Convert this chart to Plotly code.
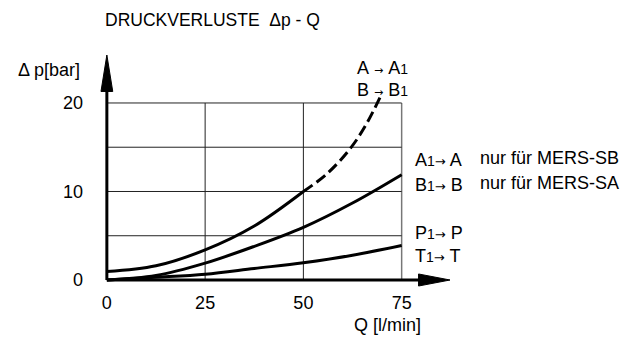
import plotly.graph_objects as go

# ---- data ----
q_main = [0, 12.5, 25, 37.5, 50, 62.5, 75]
dp_PT = [0, 0.3, 0.65, 1.3, 1.95, 2.8, 3.9]          # P1->P, T1->T
dp_A1A = [0, 0.5, 1.9, 3.8, 5.95, 8.7, 11.9]          # A1->A, B1->B
q_AA1 = [0, 12.5, 25, 37.5, 50]
dp_AA1 = [0.95, 1.6, 3.4, 6.1, 10.0]                  # A->A1, B->B1 (solid)
q_AA1_dash = [50, 56, 62, 66, 69.8]
dp_AA1_dash = [10.0, 12.0, 14.9, 17.6, 20.9]          # A->A1, B->B1 (dashed)

x_ticks = [0, 25, 50, 75]
y_ticks = [0, 10, 20]
x_grid = [25, 50, 75]
y_grid = [5, 10, 15, 20]

FONT = "Liberation Sans, Arial, sans-serif"
BLACK = "#000000"

# figure geometry (page is offset by the 8px body margin)
OFF = 8
FW, FH = 635 - OFF, 340 - OFF
ML, MT, MR, MB = 99 - OFF, 55 - OFF, 185, 50
PW = FW - ML - MR
PH = FH - MT - MB

def paper(px, py):
    """page pixel -> paper coordinates"""
    return (px - OFF - ML) / PW, (MT + PH - (py - OFF)) / PH

fig = go.Figure()
line = dict(color=BLACK, width=3, shape="spline", smoothing=1.0)
fig.add_trace(go.Scatter(x=q_main, y=dp_PT, mode="lines", line=line, hoverinfo="skip"))
fig.add_trace(go.Scatter(x=q_main, y=dp_A1A, mode="lines", line=line, hoverinfo="skip"))
fig.add_trace(go.Scatter(x=q_AA1, y=dp_AA1, mode="lines", line=line, hoverinfo="skip"))
fig.add_trace(go.Scatter(x=q_AA1_dash, y=dp_AA1_dash, mode="lines",
                         line=dict(color=BLACK, width=3, shape="spline", smoothing=1.0, dash="11px,5px"),
                         hoverinfo="skip"))

shapes = []
xmax_grid = max(x_grid)
ymax_grid = max(y_grid)
for gx in x_grid:
    shapes.append(dict(type="line", xref="x", yref="y", x0=gx, x1=gx, y0=0, y1=ymax_grid,
                       line=dict(color="#777777" if gx == xmax_grid else "#222222",
                                 width=1.5 if gx == xmax_grid else 1), layer="below"))
for gy in y_grid:
    shapes.append(dict(type="line", xref="x", yref="y", x0=0, x1=xmax_grid, y0=gy, y1=gy,
                       line=dict(color="#222222", width=1), layer="below"))

# axes with arrowheads
XTIP, YTIP = 87.3, 25.42
shapes.append(dict(type="line", xref="x", yref="y", x0=0, x1=79.5, y0=0, y1=0,
                   line=dict(color=BLACK, width=3)))
shapes.append(dict(type="line", xref="x", yref="y", x0=0, x1=0, y0=0, y1=21.5,
                   line=dict(color=BLACK, width=3)))
shapes.append(dict(type="path", xref="x", yref="y",
                   path=f"M 79.3 0.68 L {XTIP} 0 L 79.3 -0.68 Z",
                   fillcolor=BLACK, line=dict(color=BLACK, width=1)))
shapes.append(dict(type="path", xref="x", yref="y",
                   path=f"M -1.5 21.3 L 0 {YTIP} L 1.5 21.3 Z",
                   fillcolor=BLACK, line=dict(color=BLACK, width=1)))

sm = "<span style='font-size:14px'>1</span>"
NB = "\u00a0"
ar_small = f"{NB}<span style='font-family:DejaVu Sans;font-size:11px'>\u2192</span>{NB}"
ar = "<span style='font-family:DejaVu Sans;font-size:13px'>\u2192</span>"
ann = []
def add(text, px, py, xanchor="left", size=18):
    x, y = paper(px, py)
    ann.append(dict(text=text, x=x, y=y, xref="paper", yref="paper", xanchor=xanchor, yanchor="middle",
                    showarrow=False, font=dict(family=FONT, size=size, color=BLACK)))

add(f"A{ar_small}A{sm}", 355, 68)
add(f"B{ar_small}B{sm}", 355, 90)
add(f"A{sm}{ar} A", 413, 160)
add(f"B{sm}{ar} B", 413, 185)
add("nur für MERS-SB", 478, 158, size=18)
add("nur für MERS-SA", 478, 183, size=18)
add(f"P{sm}{ar} P", 413, 233)
add(f"T{sm}{ar} T", 413, 256)
add("Q [l/min]", 387, 325, xanchor="center")
add("\u0394 p[bar]", 82, 70, xanchor="right")

fig.update_layout(
    width=FW, height=FH,
    margin=dict(l=ML, r=MR, t=MT, b=MB, autoexpand=False),
    paper_bgcolor="white", plot_bgcolor="white",
    showlegend=False,
    title=dict(text="DRUCKVERLUSTE  \u0394p - Q", x=(105 - OFF) / FW, xanchor="left", xref="container",
               y=1 - (20 - OFF) / FH, yanchor="middle", yref="container",
               pad=dict(l=0, r=0, t=0, b=0),
               font=dict(family=FONT, size=17.5, color=BLACK)),
    shapes=shapes, annotations=ann,
    xaxis=dict(range=[-2, XTIP], tickvals=x_ticks, ticktext=[str(v) for v in x_ticks],
               showgrid=False, zeroline=False, showline=False, ticks="",
               tickfont=dict(family=FONT, size=18, color=BLACK)),
    yaxis=dict(range=[-1.13, YTIP], tickvals=y_ticks, ticktext=[str(v) for v in y_ticks],
               showgrid=False, zeroline=False, showline=False, ticks="",
               ticklabelstandoff=15,
               tickfont=dict(family=FONT, size=18, color=BLACK)),
)
fig.write_html("out.html")
